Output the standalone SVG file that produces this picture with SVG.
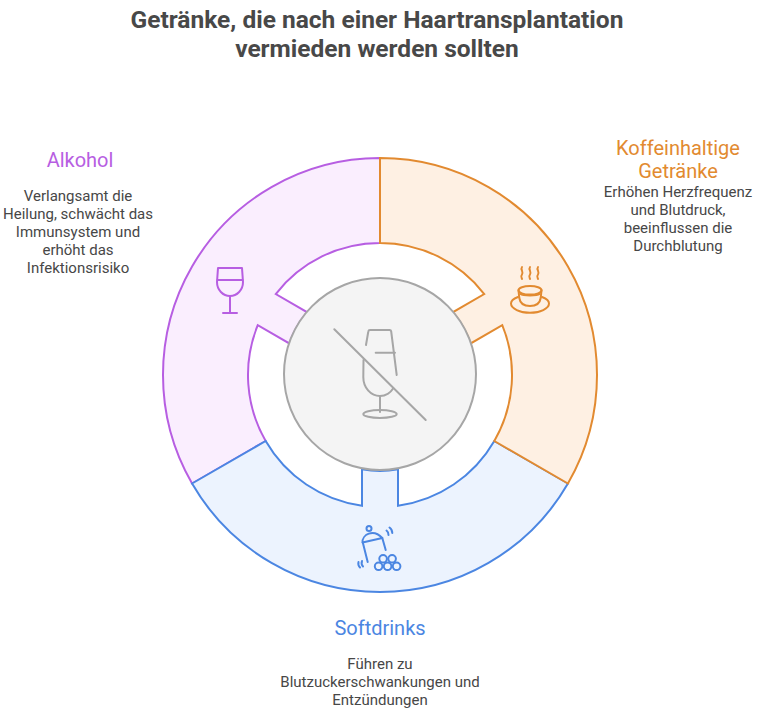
<svg xmlns="http://www.w3.org/2000/svg" width="761" height="717" viewBox="0 0 761 717">
<style>
text{font-family:Roboto,"Liberation Sans",sans-serif;text-anchor:middle}
.title{font-size:24.5px;font-weight:bold;fill:#484848}
.head{font-size:20px}
.body{font-size:15px;fill:#474747}
.ic{fill:none;stroke-width:2;stroke-linecap:round;stroke-linejoin:round}
</style>
<rect width="761" height="717" fill="#ffffff"/>
<g id="title">
<text class="title" x="377" y="28">Getränke, die nach einer Haartransplantation</text>
<text class="title" x="377" y="57">vermieden werden sollten</text>
</g>
<g id="alkohol">
<path d="M380,158 A217,217 0 0 0 192.07,483.5 L265.68,441 A132,132 0 0 1 257.75,325.2 L289.33,343.44 A96,96 0 0 1 307.33,312.26 L275.75,294.02 A132,132 0 0 1 380,243 Z" fill="#faeefe" stroke="#b75ee2" stroke-width="2"/>
<g class="ic" stroke="#b75ee2">
<path d="M218,268 L242,268 L243,282 C243,290 237,296 230,296 C223,296 217,290 217,282 Z"/>
<path d="M217.5,280 L242.5,280"/>
<path d="M230,296 L230,313 M223,313 L237,313"/>
</g>
<text class="head" x="80" y="167" fill="#b75ee2">Alkohol</text>
<text class="body" x="78" y="201">Verlangsamt die</text>
<text class="body" x="78" y="219">Heilung, schwächt das</text>
<text class="body" x="78" y="237">Immunsystem und</text>
<text class="body" x="78" y="255">erhöht das</text>
<text class="body" x="78" y="273">Infektionsrisiko</text>
</g>
<g id="softdrinks">
<path d="M567.93,483.5 A217,217 0 0 1 192.07,483.5 L265.68,441 A132,132 0 0 0 362,505.77 L362,469.3 A96,96 0 0 0 398,469.3 L398,505.77 A132,132 0 0 0 494.32,441 Z" fill="#ecf3fe" stroke="#4b86e2" stroke-width="2"/>
<g class="ic" stroke="#4b86e2">
<circle cx="369" cy="528.5" r="2.5"/>
<path d="M362.5,542.5 C362,535 373,528 382.3,538 Z"/>
<path d="M362.8,542.5 L367.7,562"/>
<path d="M382.3,538 L385.7,550"/>
<circle cx="378.6" cy="566.3" r="3.8"/>
<circle cx="387.6" cy="566.3" r="3.8"/>
<circle cx="396.6" cy="566.3" r="3.8"/>
<circle cx="383.1" cy="558.8" r="3.8"/>
<circle cx="392.1" cy="558.8" r="3.8"/>
<path d="M358.5,562 C358,564 358.5,566 360,567.5 M362,561 C361.3,563 361.6,565 363,566.5"/>
<path d="M386.5,530.5 C387.8,531.5 388.5,533 388.5,535 M389.5,527.5 C391.3,528.8 392.3,531 392.3,533"/>
</g>
<text class="head" x="380" y="635" fill="#4b86e2">Softdrinks</text>
<text class="body" x="380" y="669">Führen zu</text>
<text class="body" x="380" y="687">Blutzuckerschwankungen und</text>
<text class="body" x="380" y="705">Entzündungen</text>
</g>
<g id="koffein">
<path d="M380,158 A217,217 0 0 1 567.93,483.5 L494.32,441 A132,132 0 0 0 502.25,325.2 L470.67,343.44 A96,96 0 0 0 452.67,312.26 L484.25,294.02 A132,132 0 0 0 380,243 Z" fill="#fef0e3" stroke="#e28a30" stroke-width="2"/>
<g class="ic" stroke="#e28a30">
<path d="M522,267 C520,269.5 524,272 522,274.5 C520,277 522,278 522,279 M530,267 C528,269.5 532,272 530,274.5 C528,277 530,278 530,279 M538,267 C536,269.5 540,272 538,274.5 C536,277 538,278 538,279"/>
<ellipse cx="530" cy="290.3" rx="11.5" ry="4.3"/>
<path d="M518.5,290.3 L519.3,298 C520,303 524,306 530,306 C536,306 540,303 540.7,298 L541.5,290.3"/>
<path d="M520.5,294 C523,296 537,296 539.5,294"/>
<path d="M518,297 C514,298.5 511,300.5 511,303.5 C511,308.5 520,312.8 530,312.8 C540,312.8 549,308.5 549,303.5 C549,300.5 546,298.5 542,297"/>
</g>
<text class="head" x="678" y="155" fill="#e28a30">Koffeinhaltige</text>
<text class="head" x="678" y="178" fill="#e28a30">Getränke</text>
<text class="body" x="678" y="197">Erhöhen Herzfrequenz</text>
<text class="body" x="678" y="215">und Blutdruck,</text>
<text class="body" x="678" y="233">beeinflussen die</text>
<text class="body" x="678" y="251">Durchblutung</text>
</g>
<g id="center">
<circle cx="380" cy="374" r="96" fill="#f4f4f4" stroke="#a6a6a6" stroke-width="2"/>
<g class="ic" stroke="#a6a6a6">
<path d="M366,345 L368.3,331.5 Q368.5,330 370,330 L389.5,330 Q391,330 391.2,331.5 L396.7,375"/>
<path d="M375.7,352.7 L395,352.7"/>
<path d="M363.5,360 L363.3,377 C363.3,388 371,396 380,396 C386,396 391,392 393.3,388.3"/>
<path d="M380,396 L380,412"/>
<ellipse cx="380" cy="414" rx="16.7" ry="4"/>
<path d="M334.3,329.3 L425.7,420"/>
</g>
</g>
</svg>
